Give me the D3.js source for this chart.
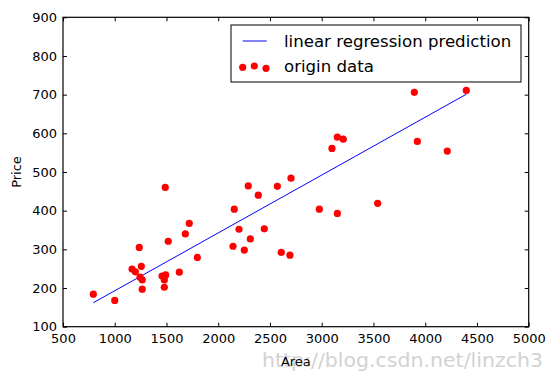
<!DOCTYPE html>
<html>
<head>
<meta charset="utf-8">
<script src="https://cdn.jsdelivr.net/npm/d3@7"></script>
<style>
  html, body { margin: 0; padding: 0; background: #fff; }
  svg { display: block; }
  text { font-family: "DejaVu Sans", sans-serif; }
</style>
</head>
<body>
<svg id="chart" width="555" height="377"></svg>
<script>
// ---- data ----
const areaValues = [793, 1000, 1167, 1199, 1237, 1257, 1244, 1266, 1266, 1488, 1517, 1457, 1492, 1479, 1479,
  1624, 1682, 1720, 1798, 2143, 2155, 2201, 2290, 2387, 2571, 2703, 2445, 2310, 2252, 2609, 2693,
  2977, 3151, 3541, 3099, 3151, 3208, 3895, 3924, 4213, 4397];
const priceValues = [184, 168, 249, 242, 305, 256, 228, 221, 197, 460, 321, 231, 234, 221, 202,
  241, 340, 367, 279, 308, 404, 352, 464, 440, 463, 484, 353, 327, 298, 292, 285,
  404, 393, 419, 561, 590, 585, 706, 579, 554, 711];
const predictionArea = [793, 4397];
const predictionPrice = [162, 701];
const xTicks = [500, 1000, 1500, 2000, 2500, 3000, 3500, 4000, 4500, 5000];
const yTicks = [100, 200, 300, 400, 500, 600, 700, 800, 900];
const legendLabels = ["linear regression prediction", "origin data"];

// ---- layout ----
const svg = d3.select("#chart");
const pL = 63, pR = 528.7, pT = 17.3, pB = 326.7;
const x = d3.scaleLinear().domain([500, 5000]).range([pL, pR]);
const y = d3.scaleLinear().domain([100, 900]).range([pB, pT]);

// watermark (drawn underneath)
svg.append("text").attr("x", 262).attr("y", 366.5)
  .attr("font-family", "Liberation Serif, serif").attr("font-size", "19px")
  .attr("fill", "#d2d2d2").attr("textLength", 281).attr("lengthAdjust", "spacingAndGlyphs")
  .text("http://blog.csdn.net/linzch3");

// regression line
svg.append("path")
  .datum(predictionArea.map((a, i) => [a, predictionPrice[i]]))
  .attr("d", d3.line().x(d => x(d[0])).y(d => y(d[1])))
  .attr("fill", "none").attr("stroke", "#0000ff").attr("stroke-width", 1);

// points
svg.append("g").selectAll("circle")
  .data(areaValues.map((a, i) => [a, priceValues[i]]))
  .join("circle")
  .attr("cx", d => x(d[0])).attr("cy", d => y(d[1]))
  .attr("r", 3.6).attr("fill", "#ff0000");

// axes (ticks inward on all sides)
const tickLen = 4;
const axB = svg.append("g").attr("transform", `translate(0,${pB})`)
  .call(d3.axisBottom(x).tickValues(xTicks).tickSizeInner(-tickLen).tickSizeOuter(0).tickPadding(7).tickFormat(d3.format("d")));
const axT = svg.append("g").attr("transform", `translate(0,${pT})`)
  .call(d3.axisTop(x).tickValues(xTicks).tickSizeInner(-tickLen).tickSizeOuter(0).tickFormat(""));
const axL = svg.append("g").attr("transform", `translate(${pL},0)`)
  .call(d3.axisLeft(y).tickValues(yTicks).tickSizeInner(-tickLen).tickSizeOuter(0).tickPadding(6).tickFormat(d3.format("d")));
const axR = svg.append("g").attr("transform", `translate(${pR},0)`)
  .call(d3.axisRight(y).tickValues(yTicks).tickSizeInner(-tickLen).tickSizeOuter(0).tickFormat(""));
[axB, axT, axL, axR].forEach(g => {
  g.select(".domain").remove();
  g.selectAll("line").attr("stroke", "#000");
  g.selectAll("text").attr("font-size", "13px").attr("fill", "#000")
    .attr("font-family", "DejaVu Sans, sans-serif");
});
axB.selectAll("text").attr("dy", "0.71em");

// frame
svg.append("rect").attr("x", pL).attr("y", pT)
  .attr("width", pR - pL).attr("height", pB - pT)
  .attr("fill", "none").attr("stroke", "#000").attr("stroke-width", 1.2);

// axis labels
svg.append("text").attr("x", (pL + pR) / 2).attr("y", 366)
  .attr("text-anchor", "middle").attr("font-size", "13px").text("Area");
svg.append("text").attr("transform", `translate(21,${(pT + pB) / 2}) rotate(-90)`)
  .attr("text-anchor", "middle").attr("font-size", "13px").text("Price");

// legend
const lg = svg.append("g");
lg.append("rect").attr("x", 231).attr("y", 25).attr("width", 290).attr("height", 57)
  .attr("fill", "#fff").attr("stroke", "#000").attr("stroke-width", 1);
lg.append("line").attr("x1", 242.7).attr("x2", 266.7).attr("y1", 41).attr("y2", 41)
  .attr("stroke", "#0000ff").attr("stroke-width", 1);
const legendDotY = [67.3, 66, 68.3];
const legendDotX = [242.7, 254.3, 266];
lg.selectAll("circle.ld").data(legendDotX).join("circle").attr("class", "ld")
  .attr("cx", d => d).attr("cy", (d, i) => legendDotY[i]).attr("r", 3.6).attr("fill", "#ff0000");
lg.append("text").attr("x", 284).attr("y", 46.5).attr("font-size", "16.6px").text(legendLabels[0]);
lg.append("text").attr("x", 284).attr("y", 72).attr("font-size", "16.6px").text(legendLabels[1]);
</script>
</body>
</html>
